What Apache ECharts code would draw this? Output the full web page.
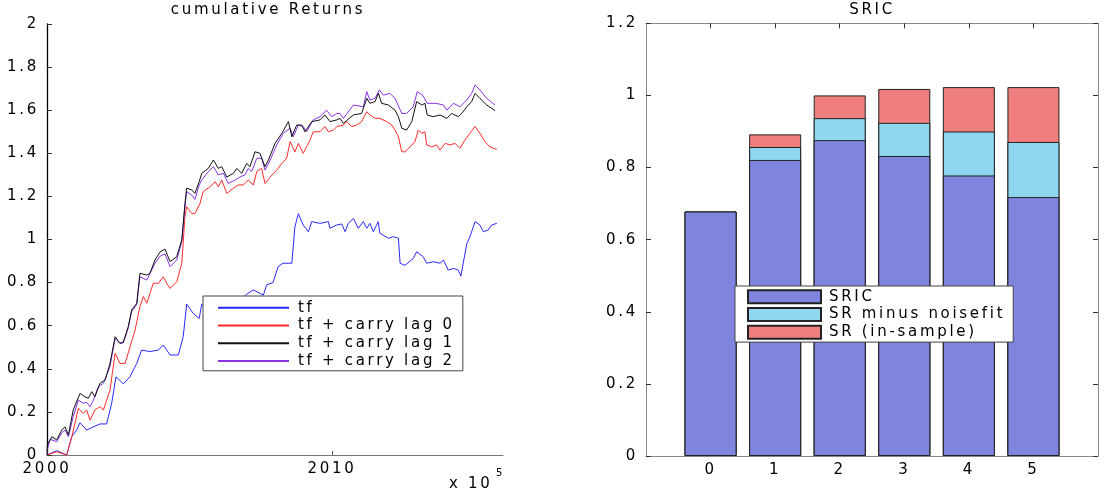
<!DOCTYPE html>
<html>
<head>
<meta charset="utf-8">
<script src="https://cdn.jsdelivr.net/npm/echarts@6/dist/echarts.min.js"></script>
<style>
html,body{margin:0;padding:0;background:#fff;}
#chart{width:1107px;height:494px;}
</style>
</head>
<body>
<div id="chart"></div>
<script>
// ---- data (years, cumulative return) ----
const tfData = [[2000.00,0],[2000.34,0.02],[2000.69,0],[2000.87,0.085],[2001.04,0.116],[2001.16,0.15],[2001.39,0.116],[2001.62,0.13],[2001.86,0.144],[2002.09,0.144],[2002.27,0.24],[2002.42,0.363],[2002.68,0.33],[2002.91,0.363],[2003.15,0.425],[2003.32,0.487],[2003.61,0.48],[2003.91,0.487],[2004.08,0.51],[2004.32,0.464],[2004.61,0.464],[2004.78,0.55],[2004.90,0.70],[2005.13,0.657],[2005.34,0.634],[2005.43,0.70],[2005.70,0.69],[2006.00,0.66],[2006.40,0.70],[2006.80,0.72],[2007.00,0.745],[2007.24,0.766],[2007.59,0.742],[2007.71,0.79],[2007.93,0.80],[2008.11,0.874],[2008.28,0.89],[2008.59,0.89],[2008.70,1.06],[2008.82,1.12],[2008.99,1.067],[2009.17,1.036],[2009.29,1.083],[2009.58,1.075],[2009.87,1.083],[2009.93,1.052],[2010.16,1.067],[2010.34,1.072],[2010.46,1.036],[2010.57,1.075],[2010.75,1.098],[2010.92,1.052],[2011.10,1.083],[2011.22,1.052],[2011.33,1.075],[2011.45,1.036],[2011.62,1.083],[2011.68,1.029],[2011.98,1.006],[2012.15,1.013],[2012.33,1.006],[2012.39,0.89],[2012.56,0.88],[2012.85,0.912],[2012.97,0.943],[2013.20,0.92],[2013.32,0.89],[2013.55,0.897],[2013.79,0.89],[2013.91,0.905],[2014.08,0.858],[2014.26,0.866],[2014.43,0.858],[2014.52,0.83],[2014.73,0.98],[2014.84,1.013],[2015.02,1.083],[2015.19,1.067],[2015.31,1.036],[2015.48,1.044],[2015.60,1.067],[2015.78,1.075]];

const lag0Data = [[2000.00,0],[2000.34,0.015],[2000.69,0],[2000.87,0.085],[2000.98,0.147],[2001.10,0.217],[2001.27,0.193],[2001.39,0.209],[2001.51,0.162],[2001.68,0.209],[2001.86,0.224],[2001.98,0.209],[2002.21,0.30],[2002.39,0.472],[2002.56,0.425],[2002.74,0.425],[2002.91,0.50],[2003.09,0.58],[2003.26,0.688],[2003.38,0.735],[2003.50,0.704],[2003.73,0.797],[2003.91,0.797],[2004.08,0.827],[2004.20,0.797],[2004.32,0.773],[2004.55,0.804],[2004.73,0.89],[2004.84,1.106],[2004.90,1.152],[2005.08,1.12],[2005.19,1.12],[2005.37,1.168],[2005.48,1.222],[2005.72,1.245],[2005.90,1.268],[2006.01,1.245],[2006.13,1.276],[2006.31,1.214],[2006.54,1.238],[2006.71,1.253],[2006.89,1.253],[2007.06,1.276],[2007.24,1.253],[2007.36,1.315],[2007.53,1.33],[2007.65,1.26],[2007.83,1.29],[2008.06,1.322],[2008.24,1.353],[2008.41,1.377],[2008.53,1.454],[2008.70,1.407],[2008.82,1.446],[2008.99,1.40],[2009.23,1.462],[2009.34,1.50],[2009.58,1.50],[2009.75,1.524],[2009.87,1.50],[2010.05,1.508],[2010.17,1.524],[2010.40,1.531],[2010.52,1.547],[2010.69,1.524],[2010.87,1.531],[2011.04,1.547],[2011.22,1.593],[2011.33,1.578],[2011.51,1.562],[2011.68,1.562],[2011.92,1.547],[2012.10,1.531],[2012.21,1.508],[2012.33,1.477],[2012.45,1.407],[2012.56,1.407],[2012.74,1.43],[2012.91,1.454],[2013.03,1.508],[2013.15,1.493],[2013.26,1.50],[2013.32,1.439],[2013.50,1.43],[2013.67,1.439],[2013.79,1.415],[2013.97,1.446],[2014.14,1.439],[2014.32,1.446],[2014.49,1.423],[2014.67,1.462],[2014.84,1.493],[2015.02,1.524],[2015.19,1.493],[2015.37,1.454],[2015.54,1.43],[2015.78,1.418]];

const lag1Data = [[2000.00,0],[2000.01,0.046],[2000.17,0.085],[2000.34,0.07],[2000.52,0.116],[2000.63,0.131],[2000.75,0.093],[2000.92,0.209],[2001.16,0.286],[2001.33,0.27],[2001.45,0.263],[2001.57,0.294],[2001.68,0.27],[2001.86,0.333],[2002.04,0.348],[2002.21,0.425],[2002.39,0.549],[2002.56,0.518],[2002.68,0.526],[2002.85,0.595],[2002.97,0.673],[2003.15,0.704],[2003.26,0.843],[2003.50,0.835],[2003.61,0.843],[2003.79,0.905],[2003.97,0.943],[2004.14,0.955],[2004.32,0.897],[2004.55,0.92],[2004.73,0.998],[2004.84,1.168],[2004.90,1.238],[2005.08,1.23],[2005.19,1.214],[2005.34,1.268],[2005.43,1.307],[2005.66,1.33],[2005.84,1.369],[2006.01,1.33],[2006.13,1.338],[2006.31,1.29],[2006.54,1.307],[2006.66,1.33],[2006.83,1.307],[2007.01,1.353],[2007.12,1.338],[2007.30,1.407],[2007.47,1.40],[2007.65,1.338],[2007.77,1.369],[2008.00,1.446],[2008.24,1.493],[2008.47,1.547],[2008.59,1.477],[2008.76,1.531],[2008.94,1.531],[2009.05,1.50],[2009.29,1.547],[2009.58,1.555],[2009.75,1.578],[2009.93,1.547],[2010.17,1.555],[2010.28,1.562],[2010.40,1.539],[2010.75,1.578],[2011.04,1.585],[2011.22,1.655],[2011.33,1.632],[2011.51,1.64],[2011.63,1.678],[2011.74,1.632],[2011.98,1.624],[2012.21,1.60],[2012.33,1.57],[2012.45,1.516],[2012.62,1.508],[2012.80,1.547],[2012.97,1.64],[2013.15,1.624],[2013.26,1.632],[2013.34,1.578],[2013.55,1.57],[2013.79,1.578],[2014.03,1.562],[2014.20,1.585],[2014.43,1.57],[2014.55,1.585],[2014.73,1.616],[2014.90,1.64],[2015.02,1.678],[2015.19,1.655],[2015.43,1.624],[2015.72,1.598]];

const lag2Data = [[2000.00,0.02],[2000.11,0.073],[2000.34,0.062],[2000.52,0.103],[2000.63,0.116],[2000.75,0.085],[2000.92,0.178],[2001.10,0.255],[2001.27,0.24],[2001.39,0.245],[2001.51,0.224],[2001.63,0.255],[2001.80,0.317],[2001.98,0.333],[2002.21,0.41],[2002.39,0.541],[2002.56,0.518],[2002.68,0.52],[2002.85,0.59],[2002.97,0.665],[2003.15,0.70],[2003.26,0.827],[2003.50,0.812],[2003.79,0.89],[2003.97,0.923],[2004.14,0.933],[2004.32,0.874],[2004.55,0.905],[2004.73,0.99],[2004.84,1.15],[2004.90,1.222],[2005.08,1.206],[2005.19,1.186],[2005.34,1.253],[2005.43,1.276],[2005.66,1.315],[2005.84,1.338],[2006.01,1.30],[2006.19,1.307],[2006.36,1.26],[2006.60,1.276],[2006.77,1.29],[2006.95,1.30],[2007.06,1.33],[2007.18,1.315],[2007.36,1.377],[2007.53,1.377],[2007.65,1.322],[2007.83,1.369],[2008.06,1.439],[2008.29,1.493],[2008.53,1.516],[2008.64,1.477],[2008.82,1.531],[2008.99,1.524],[2009.11,1.50],[2009.34,1.555],[2009.58,1.57],[2009.81,1.60],[2009.99,1.57],[2010.17,1.585],[2010.28,1.585],[2010.40,1.562],[2010.75,1.624],[2011.10,1.616],[2011.22,1.686],[2011.33,1.647],[2011.51,1.655],[2011.66,1.694],[2011.80,1.67],[2012.04,1.678],[2012.21,1.655],[2012.45,1.585],[2012.62,1.585],[2012.85,1.616],[2012.99,1.686],[2013.18,1.67],[2013.34,1.632],[2013.65,1.632],[2013.91,1.624],[2014.03,1.60],[2014.26,1.632],[2014.49,1.616],[2014.73,1.647],[2014.90,1.678],[2015.02,1.717],[2015.19,1.694],[2015.43,1.655],[2015.72,1.624]];

const lineNames = ['tf', 'tf + carry lag 0', 'tf + carry lag 1', 'tf + carry lag 2'];
const xTickValues = [2000, 2010];

// ---- SRIC bars ----
const barCategories = [0, 1, 2, 3, 4, 5];
const sricValues = [0.678, 0.821, 0.876, 0.832, 0.778, 0.718];
const srMinusNoiseValues = [0.678, 0.857, 0.937, 0.924, 0.900, 0.871];
const srInSampleValues = [0.678, 0.892, 1.000, 1.018, 1.023, 1.023];
const barNames = ['SRIC', 'SR minus noisefit', 'SR (in-sample)'];

// widen text like the reference rendering
(function(){
  const P = CanvasRenderingContext2D.prototype;
  const d = Object.getOwnPropertyDescriptor(P, 'font');
  if (d && d.set) {
    Object.defineProperty(P, 'font', {
      configurable: true,
      get(){ return d.get.call(this); },
      set(v){ d.set.call(this, v); try { this.letterSpacing = '2.7px'; } catch(e){} }
    });
  }
})();

const FONT = 'DejaVu Sans';
const FS = 15;
const pairs = (cats, vals) => cats.map((c, i) => [c, vals[i]]);

const chart = echarts.init(document.getElementById('chart'), null, {renderer: 'canvas'});
const txt = {fontFamily: FONT, fontSize: FS, color: '#000'};

chart.setOption({
  animation: false,
  backgroundColor: '#fff',
  textStyle: {fontFamily: FONT},
  title: [
    {text: 'cumulative Returns', left: 268, top: 1, textAlign: 'center', padding: 0,
     textStyle: {fontFamily: FONT, fontSize: FS, fontWeight: 'normal', color: '#000'}},
    {text: 'SRIC', left: 872, top: 1, textAlign: 'center', padding: 0,
     textStyle: {fontFamily: FONT, fontSize: FS, fontWeight: 'normal', color: '#000'}}
  ],
  grid: [
    {left: 47, top: 24, width: 456, height: 431},
    {left: 646, top: 23.3, width: 452, height: 432.7}
  ],
  xAxis: [
    {type: 'value', gridIndex: 0, min: 2000, max: 2016, interval: 10,
     splitLine: {show: false},
     axisLine: {onZero: false, lineStyle: {color: '#777', width: 1}},
     axisTick: {inside: true, length: 4, customValues: xTickValues, lineStyle: {color: '#555'}},
     axisLabel: Object.assign({margin: 5, customValues: xTickValues, formatter: v => String(v)}, txt)},
    {type: 'value', gridIndex: 1, min: -1, max: 6, interval: 1, position: 'bottom',
     splitLine: {show: false},
     axisLine: {onZero: false, lineStyle: {color: '#888', width: 1}},
     axisTick: {inside: true, length: 5, customValues: barCategories, lineStyle: {color: '#333'}},
     axisLabel: Object.assign({margin: 5, customValues: barCategories, formatter: v => String(v)}, txt)},
    {type: 'value', gridIndex: 1, min: -1, max: 6, interval: 1, position: 'top',
     splitLine: {show: false},
     axisLine: {onZero: false, lineStyle: {color: '#888', width: 1}},
     axisTick: {inside: true, length: 5, customValues: barCategories, lineStyle: {color: '#333'}},
     axisLabel: {show: false}}
  ],
  yAxis: [
    {type: 'value', gridIndex: 0, min: 0, max: 2, interval: 0.2,
     splitLine: {show: false},
     axisLine: {show: true, onZero: false, lineStyle: {color: '#000', width: 1.3}},
     axisTick: {show: true, inside: true, length: 5, lineStyle: {color: '#333'}},
     axisLabel: Object.assign({margin: 8}, txt)},
    {type: 'value', gridIndex: 1, min: 0, max: 1.2, interval: 0.2, position: 'left',
     splitLine: {show: false},
     axisLine: {show: true, onZero: false, lineStyle: {color: '#888', width: 1}},
     axisTick: {show: true, inside: true, length: 5, lineStyle: {color: '#333'}},
     axisLabel: Object.assign({margin: 8}, txt)},
    {type: 'value', gridIndex: 1, min: 0, max: 1.2, interval: 0.2, position: 'right',
     splitLine: {show: false},
     axisLine: {show: true, onZero: false, lineStyle: {color: '#888', width: 1}},
     axisTick: {show: true, inside: true, length: 5, lineStyle: {color: '#333'}},
     axisLabel: {show: false}}
  ],
  legend: [
    {data: lineNames, orient: 'vertical', left: 203, top: 296,
     itemWidth: 71, itemHeight: 14, itemGap: 0,
     padding: [3, 8, 1, 14], backgroundColor: '#fff', borderColor: '#444', borderWidth: 1,
     borderRadius: 0, selectedMode: false, z: 10,
     itemStyle: {opacity: 0},
     textStyle: {fontFamily: FONT, fontSize: FS, color: '#000', lineHeight: 17.4, padding: [0, 0, 0, 4]}},
    {data: barNames, orient: 'vertical', left: 735, top: 286, icon: 'rect',
     itemWidth: 73, itemHeight: 13, itemGap: 0,
     padding: [2, 8, 1, 12], backgroundColor: '#fff', borderColor: '#444', borderWidth: 1,
     borderRadius: 0, selectedMode: false, z: 10,
     textStyle: {fontFamily: FONT, fontSize: FS, color: '#000', lineHeight: 17.5, padding: [0, 0, 0, 3]}}
  ],
  graphic: [
    {type: 'text', left: 449, top: 475, style: {text: 'x 10', font: '15px "DejaVu Sans"', fill: '#000'}},
    {type: 'text', left: 496, top: 467, style: {text: '5', font: '10px "DejaVu Sans"', fill: '#000'}}
  ],
  series: [
    {name: lineNames[0], type: 'line', xAxisIndex: 0, yAxisIndex: 0, data: tfData,
     symbol: 'none', lineStyle: {color: '#2828ff', width: 1}, itemStyle: {color: '#2828ff'}},
    {name: lineNames[1], type: 'line', xAxisIndex: 0, yAxisIndex: 0, data: lag0Data,
     symbol: 'none', lineStyle: {color: '#ff2a2a', width: 1}, itemStyle: {color: '#ff2a2a'}},
    {name: lineNames[3], type: 'line', xAxisIndex: 0, yAxisIndex: 0, data: lag2Data,
     symbol: 'none', lineStyle: {color: '#8a32e6', width: 1}, itemStyle: {color: '#8a32e6'}},
    {name: lineNames[2], type: 'line', xAxisIndex: 0, yAxisIndex: 0, data: lag1Data,
     symbol: 'none', lineStyle: {color: '#111', width: 1}, itemStyle: {color: '#111'}},
    {name: barNames[2], type: 'bar', xAxisIndex: 1, yAxisIndex: 1,
     data: pairs(barCategories, srInSampleValues), barWidth: 52, barGap: '-100%',
     itemStyle: {color: '#ef7f7f', borderColor: '#222', borderWidth: 1}},
    {name: barNames[1], type: 'bar', xAxisIndex: 1, yAxisIndex: 1,
     data: pairs(barCategories, srMinusNoiseValues), barWidth: 52, barGap: '-100%',
     itemStyle: {color: '#8ed7ef', borderColor: '#222', borderWidth: 1}},
    {name: barNames[0], type: 'bar', xAxisIndex: 1, yAxisIndex: 1,
     data: pairs(barCategories, sricValues), barWidth: 52, barGap: '-100%',
     itemStyle: {color: '#7f85df', borderColor: '#222', borderWidth: 1}}
  ]
});
</script>
</body>
</html>
